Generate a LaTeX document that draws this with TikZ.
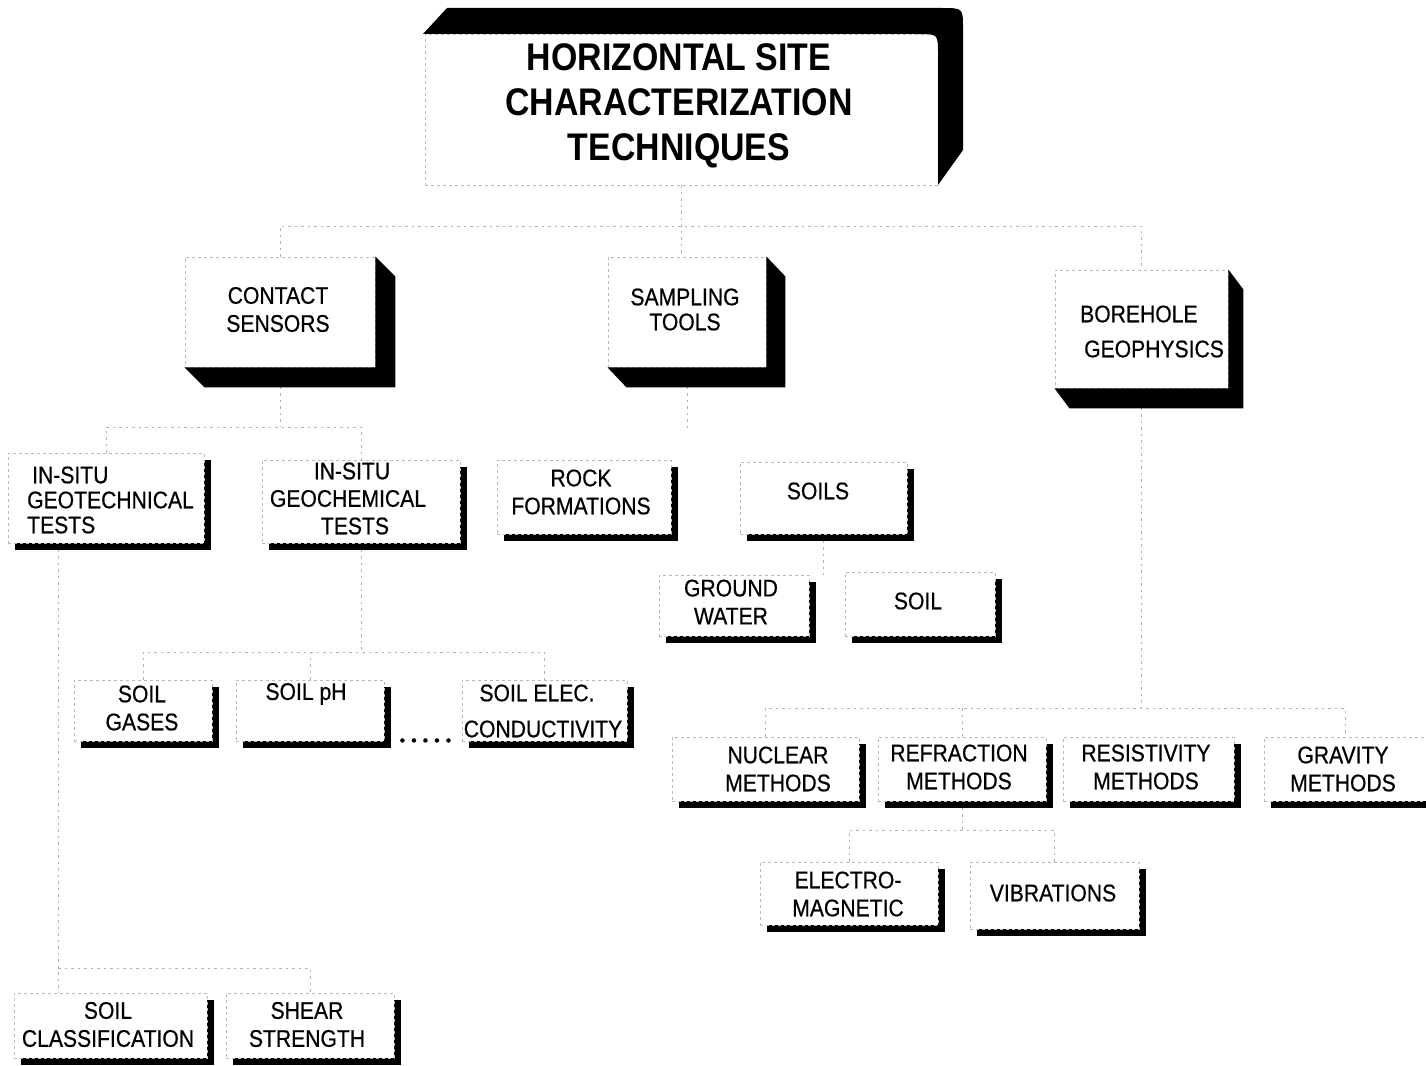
\documentclass[tikz,border=0pt]{standalone}
\usepackage{fontspec}
\setmainfont{Liberation Sans}[FakeStretch=0.88]
\newfontfamily\boxfont{Liberation Sans}[FakeStretch=0.88, FakeBold=0.6]
\usetikzlibrary{shadows}
\pgfdeclarelayer{paper}
\pgfdeclarelayer{bg}
\pgfsetlayers{paper,bg,main}

\tikzset{
  plainbox/.style={rectangle, fill=white, draw=gray!55, line width=0.9pt,
    dash pattern=on 3pt off 3pt, inner sep=0pt},
  box/.style={plainbox, drop shadow={shadow xshift=7pt, shadow yshift=-7pt,
    fill=black, opacity=1}},
  txt/.style={inner sep=0pt, align=center, font=\boxfont\fontsize{24}{28}\selectfont},
  conn/.style={draw=gray!60, line width=1pt, dash pattern=on 2.5pt off 4pt},
  dotrow/.style={draw=black, line width=4.5pt, line cap=round,
    dash pattern=on 0pt off 11.5pt},
}

% black extrusion along the right and bottom side of a node
\newcommand\extrudebox[3]{%
  \fill[black] (#1.north east) -- ([shift={(#2,#3)}]#1.north east)
    -- ([shift={(#2,#3)}]#1.south east) -- ([shift={(#2,#3)}]#1.south west)
    -- (#1.south west) -- (#1.south east) -- cycle;}

\begin{document}
\begin{tikzpicture}[x=1pt,y=-1pt]
\useasboundingbox (0,0) rectangle (1426,1065);
\begin{pgfonlayer}{paper}
  \fill[white] (0,0) rectangle (1426,1065);
\end{pgfonlayer}

% ---------- title ----------
\node[plainbox, minimum width=513pt, minimum height=151pt] (title) at (681.5,109.5) {};
\fill[black] (423,34) -- (447,8) -- (942,8) .. controls (963,8) .. (963,29)
  -- (963,150) -- (938,185) -- (938,54) .. controls (938,34) .. (918,34) -- cycle;
\node[inner sep=0pt, align=center, font=\fontsize{38.5}{45}\bfseries\selectfont] (title-t)
  at (679,105.5) {HORIZONTAL SITE\\CHARACTERIZATION\\TECHNIQUES};

% ---------- first level ----------
\node[plainbox, minimum width=190pt, minimum height=110pt] (contact) at (280,312) {};
\extrudebox{contact}{20}{20}
\node[txt] (contact-t) at (278,309.5) {CONTACT\\SENSORS};

\node[plainbox, minimum width=158pt, minimum height=110pt] (sampling) at (687,312) {};
\extrudebox{sampling}{19}{20}
\node[txt, font=\boxfont\fontsize{24}{25}\selectfont] (sampling-t) at (685,309.5) {SAMPLING\\TOOLS};

\node[plainbox, minimum width=173pt, minimum height=118pt] (borehole) at (1141.5,329) {};
\extrudebox{borehole}{15}{20}
\node[txt, align=left, anchor=west] (borehole-t) at (1080,331.5)
  {BOREHOLE\\[7pt]\hspace*{4pt}GEOPHYSICS};

% ---------- second level ----------
\node[box, minimum width=196pt, minimum height=90pt] (geotech) at (106,498) {};
\node[txt, align=left, anchor=west, font=\boxfont\fontsize{24}{25}\selectfont] (geotech-t) at (27,500)
  {\hspace*{5pt}IN-SITU\\GEOTECHNICAL\\TESTS};

\node[box, minimum width=198pt, minimum height=83pt] (geochem) at (361,501.5) {};
\node[txt, font=\boxfont\fontsize{24}{27.5}\selectfont] (geochem-t) at (348,498.5)
  {\hspace*{8pt}IN-SITU\\GEOCHEMICAL\\\hspace*{14pt}TESTS};

\node[box, minimum width=174pt, minimum height=74pt] (rock) at (584,497) {};
\node[txt] (rock-t) at (581,492) {ROCK\\FORMATIONS};

\node[box, minimum width=167pt, minimum height=72pt] (soils) at (823.5,498) {};
\node[txt] (soils-t) at (818,491) {SOILS};

\node[box, minimum width=150pt, minimum height=61pt] (ground) at (734,605.5) {};
\node[txt] (ground-t) at (731,602) {GROUND\\WATER};

\node[box, minimum width=150pt, minimum height=64pt] (soil) at (920,604) {};
\node[txt] (soil-t) at (918,601) {SOIL};

% ---------- geochemical tests ----------
\node[box, minimum width=138pt, minimum height=61pt] (gases) at (143,710.5) {};
\node[txt] (gases-t) at (142,708) {SOIL\\GASES};

\node[box, minimum width=148pt, minimum height=61pt] (ph) at (310,710.5) {};
\node[txt] (ph-t) at (306,694) {SOIL pH};

\node[box, minimum width=165pt, minimum height=61pt] (elec) at (544.5,710.5) {};
\node[txt, font=\boxfont\fontsize{24}{36}\selectfont] (elec-t) at (543,711)
  {\hspace*{-12pt}SOIL ELEC.\\CONDUCTIVITY};

% ---------- geophysical methods ----------
\node[box, minimum width=187pt, minimum height=64pt] (nuclear) at (765.5,769) {};
\node[txt] (nuclear-t) at (778,769) {NUCLEAR\\METHODS};

\node[box, minimum width=168pt, minimum height=64pt] (refraction) at (962,769) {};
\node[txt] (refraction-t) at (959,767) {REFRACTION\\METHODS};

\node[box, minimum width=171pt, minimum height=64pt] (resistivity) at (1148.5,769) {};
\node[txt] (resistivity-t) at (1146,767) {RESISTIVITY\\METHODS};

\node[box, minimum width=162pt, minimum height=64pt] (gravity) at (1345,769) {};
\node[txt] (gravity-t) at (1343,769) {GRAVITY\\METHODS};

\node[box, minimum width=178pt, minimum height=63pt] (electro) at (849,893.5) {};
\node[txt] (electro-t) at (848,894) {ELECTRO-\\MAGNETIC};

\node[box, minimum width=169pt, minimum height=67pt] (vibrations) at (1054.5,895.5) {};
\node[txt] (vibrations-t) at (1053,893) {VIBRATIONS};

% ---------- geotechnical tests ----------
\node[box, minimum width=193pt, minimum height=65pt] (soilclass) at (110.5,1025.5) {};
\node[txt] (soilclass-t) at (108,1024.5) {SOIL\\CLASSIFICATION};

\node[box, minimum width=168pt, minimum height=65pt] (shear) at (310,1025.5) {};
\node[txt] (shear-t) at (307,1024.5) {SHEAR\\STRENGTH};

% dotted continuation between soil pH and conductivity
\draw[dotrow] ([shift={(18,-1)}]ph.south east) -- ([shift={(-12,-1)}]elec.south west);

% ---------- connectors ----------
\coordinate (bus1) at (681.5,226);
\coordinate (bus2) at (280,427);
\coordinate (samp-end) at (687,430);
\coordinate (bus3) at (1141.5,708);
\coordinate (bus4) at (962,830);
\coordinate (bus5) at (58,968);
\coordinate (bus6) at (361,652);
\begin{pgfonlayer}{bg}
  \draw[conn] (title.south) -- (title.south |- sampling.north);
  \draw[conn] (contact.north) |- (borehole.north |- bus1) -- (borehole.north);

  \draw[conn] (contact.south) -- (bus2);
  \draw[conn] (geotech.north) |- (geochem.north |- bus2) -- (geochem.north);

  \draw[conn] (sampling.south) -- (samp-end);
  \draw[conn] (soils.south) -- (soils.south |- ground.north);

  \draw[conn] (borehole.south) -- (bus3);
  \draw[conn] (nuclear.north) |- (gravity.north |- bus3) -- (gravity.north);
  \draw[conn] (refraction.north) -- (refraction.north |- bus3);

  \draw[conn] (refraction.south) -- (bus4);
  \draw[conn] (electro.north) |- (vibrations.north |- bus4) -- (vibrations.north);

  \draw[conn] ([xshift=-48pt]geotech.south) -- (bus5 |- soilclass.north);
  \draw[conn] (bus5) -| (shear.north);

  \draw[conn] (geochem.south) -- (bus6);
  \draw[conn] (gases.north) |- (elec.north |- bus6) -- (elec.north);
  \draw[conn] (ph.north) -- (ph.north |- bus6);
\end{pgfonlayer}
\end{tikzpicture}
\end{document}
